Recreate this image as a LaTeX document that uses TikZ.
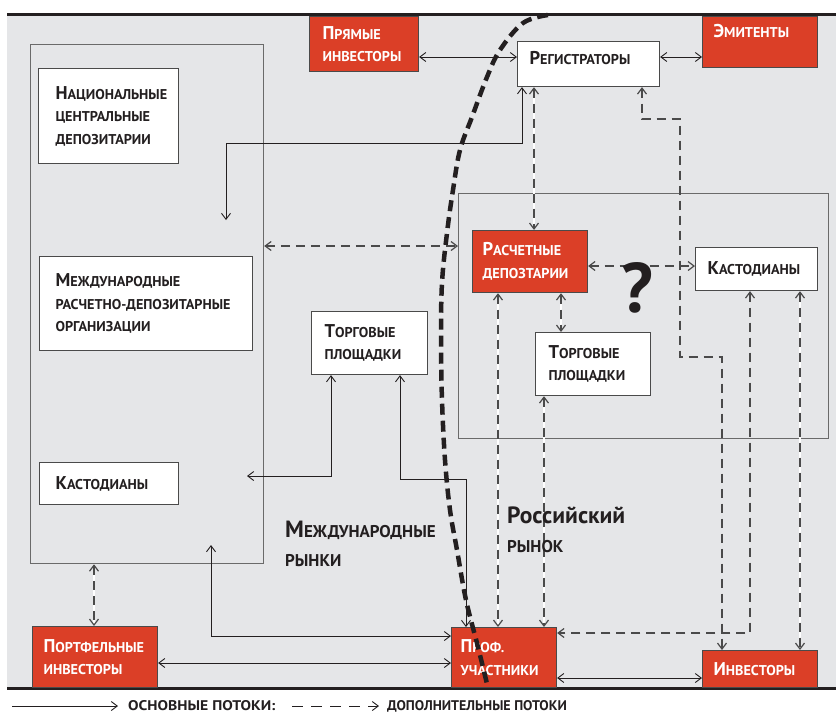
\documentclass[tikz,border=0pt]{standalone}
\usepackage{fontspec}
\setmainfont{PT Sans}
\newfontfamily\legfont[FakeStretch=1.12]{PT Sans}
\usetikzlibrary{arrows.meta,calc}
\definecolor{bggray}{HTML}{E5E6E8}
\definecolor{myred}{HTML}{DB3F27}
\definecolor{edgec}{HTML}{4A4A4A}
\definecolor{framec}{HTML}{6A6A6A}
\definecolor{ink}{HTML}{231F20}
\definecolor{dashc}{HTML}{4A4A4A}
\newcommand\BigL[1]{{\fontsize{18.5}{22.5}\selectfont#1}}
\newcommand\LabBig[1]{{\fontsize{23.5}{28}\selectfont#1}}
\begin{document}
\begin{tikzpicture}[x=1pt,y=-1pt,
  >={Straight Barb[length=6pt,width=9pt]},
  box/.style={draw=edgec, line width=1.1pt, fill=white, anchor=north west, align=left,
    inner ysep=0pt, text=ink, font=\bfseries\fontsize{14.2}{22.5}\selectfont},
  redbox/.style={box, fill=myred, text=white},
  frame/.style={draw=framec, line width=1.2pt, anchor=north west, inner sep=0pt},
  main/.style={draw=ink, line width=0.9pt},
  dsh/.style={draw=dashc, line width=1.2pt, dash pattern=on 9pt off 6pt},
  wdsh/.style={dsh, preaction={draw=white, solid, line width=1.2pt, arrows=-}},
  lab/.style={anchor=base west, inner sep=0pt, text=ink, font=\bfseries\fontsize{17}{20}\selectfont},
  legtext/.style={anchor=base west, inner sep=0pt, text=ink, font=\bfseries\fontsize{14}{14}\selectfont},
  legline/.style={draw=ink, line width=0.9pt}
]
\useasboundingbox (0,0) rectangle (836,713);
\fill[white] (0,0) rectangle (836,713);
\fill[bggray] (7,15) rectangle (836,687);
\draw[line width=2.8pt, ink] (7,14.6) -- (836,14.6);
\draw[line width=3.2pt, ink] (7,688.5) -- (836,688.5);

% frames
\node[frame, minimum width=233pt, minimum height=519pt] (intl) at (30,44) {};
\node[frame, minimum width=370pt, minimum height=245pt] (rus) at (458,193) {};

% boxes
\node[box, minimum width=140pt, minimum height=95pt, inner xsep=17pt, text width=106pt] (ncd) at (38,68)
  {\BigL{Н}АЦИОНАЛЬНЫЕ\\ЦЕНТРАЛЬНЫЕ\\ДЕПОЗИТАРИИ};
\node[box, minimum width=213pt, minimum height=94pt, inner xsep=16pt, text width=181pt] (mrdo) at (39,256)
  {\BigL{М}ЕЖДУНАРОДНЫЕ\\\mbox{РАСЧЕТНО-ДЕПОЗИТАРНЫЕ}\\ОРГАНИЗАЦИИ};
\node[box, minimum width=139pt, minimum height=42pt, inner xsep=16pt, text width=107pt] (kastL) at (39,462)
  {\BigL{К}АСТОДИАНЫ};
\node[box, minimum width=116pt, minimum height=63pt, inner xsep=13pt, text width=90pt] (torgM) at (311,311)
  {\BigL{Т}ОРГОВЫЕ\\ПЛОЩАДКИ};
\node[redbox, minimum width=109pt, minimum height=55pt, inner xsep=13pt, text width=83pt] (pryam) at (309,16)
  {\BigL{П}РЯМЫЕ\\ИНВЕСТОРЫ};
\node[box, minimum width=142pt, minimum height=45pt, inner xsep=12pt, text width=118pt] (reg) at (517,41)
  {\smash{\raisebox{0pt}{\BigL{Р}ЕГИСТРАТОРЫ}}};
\node[redbox, minimum width=115pt, minimum height=51pt, inner xsep=11pt, text width=93pt] (emit) at (702,16)
  {\smash{\raisebox{4.5pt}{\BigL{Э}МИТЕНТЫ}}};
\node[redbox, minimum width=115pt, minimum height=62pt, inner xsep=10pt, text width=95pt] (rasch) at (472,230)
  {\BigL{Р}АСЧЕТНЫЕ\\ДЕПОЗТАРИИ};
\node[box, minimum width=122pt, minimum height=43pt, inner xsep=12pt, text width=98pt] (kastR) at (695,247)
  {\BigL{К}АСТОДИАНЫ};
\node[box, minimum width=115pt, minimum height=63pt, inner xsep=13pt, text width=89pt] (torgR) at (535,332)
  {\BigL{Т}ОРГОВЫЕ\\ПЛОЩАДКИ};
\node[redbox, minimum width=105pt, minimum height=60pt, inner xsep=9pt, text width=87pt] (prof) at (451,627)
  {\BigL{П}РОФ.\\УЧАСТНИКИ};
\node[redbox, minimum width=115pt, minimum height=37pt, inner xsep=11pt, text width=93pt] (invest) at (702,650)
  {\BigL{И}НВЕСТОРЫ};
\node[redbox, minimum width=125pt, minimum height=61pt, inner xsep=11pt, text width=103pt] (portf) at (32,626)
  {\BigL{П}ОРТФЕЛЬНЫЕ\\ИНВЕСТОРЫ};

% solid connectors
\draw[main,<->] (pryam.east |- 0,57) -- (reg.west |- 0,57);
\draw[main,<->] (reg.east |- 0,57) -- (emit.west |- 0,57);
\coordinate (c3) at (226,220);
\draw[main,<->] (c3) -- (226,143) -| (reg.south -| 522,0);
\coordinate (c13) at (247,476);
\draw[main,<->] (torgM.south -| 331,0) |- (c13);
\draw[main,<->] (torgM.south -| 400,0) |- (466,479) -- (prof.north -| 466,0);
\coordinate (c15) at (211,545);
\draw[main,<->] (c15) |- (prof.west |- 0,636);
\draw[main,<->] (portf.east |- 0,663) -- (prof.west |- 0,663);
\draw[main,<->] (prof.east |- 0,678) -- (invest.west |- 0,678);

% dashed connectors
\draw[wdsh,<->] (reg.south -| 534,0) -- (rasch.north -| 534,0);
\draw[dsh,<->] (reg.south -| 642,0) |- (680,119) |- (722,357) -- (invest.north -| 722,0);
\draw[dsh,<->] (intl.east |- 0,246) -- (rus.west |- 0,246);
\draw[dsh,<->] (rasch.east |- 0,266) -- (kastR.west |- 0,266);
\draw[wdsh,<->] (rasch.south -| 561,0) -- (torgR.north -| 561,0);
\draw[wdsh,<->] (rasch.south -| 498,0) -- (prof.north -| 498,0);
\draw[wdsh,<->] (torgR.south -| 544,0) -- (prof.north -| 544,0);
\draw[wdsh,<->] (kastR.south -| 800,0) -- (invest.north -| 800,0);
\draw[dsh,<->] (kastR.south -| 750,0) |- (prof.east |- 0,633);
\draw[wdsh,<->] (intl.south -| 94,0) -- (portf.north -| 94,0);

% border curve
\draw[line width=4.5pt, ink, dash pattern=on 11pt off 6pt]
  plot[smooth, tension=0.6] coordinates {(548,15) (523,23) (500,50) (487,77) (472,117) (460,150) (453,190) (447,233) (442,283) (441,340) (442,400) (445,460) (450,510) (457,550) (466,600) (478,647) (488,688)};

% question mark
\node[inner sep=0pt, text=ink, font=\bfseries\fontsize{70}{70}\selectfont] (qm) at (637,288) {?};

% labels
\node[lab] (lm1) at (285,537) {\LabBig{М}ЕЖДУНАРОДНЫЕ};
\node[lab] (lm2) at (285,566) {РЫНКИ};
\node[lab] (lr1) at (507,523) {\LabBig{Российский}};
\node[lab] (lr2) at (507,552) {РЫНОК};

% legend
\coordinate (lg0) at (12,706);
\node[legtext, font=\legfont\bfseries\fontsize{14}{14}\selectfont] (lg1) at (128,710.5) {ОСНОВНЫЕ ПОТОКИ:};
\coordinate (lg2) at (292,706);
\node[legtext] (lg3) at (387,710.5) {ДОПОЛНИТЕЛЬНЫЕ ПОТОКИ};
\draw[legline,->,shorten >=10pt] (lg0) -- (lg1.west |- lg0);
\draw[legline,->,dash pattern=on 11pt off 8pt,shorten >=8pt] (lg2) -- (lg3.west |- lg2);
\end{tikzpicture}
\end{document}
